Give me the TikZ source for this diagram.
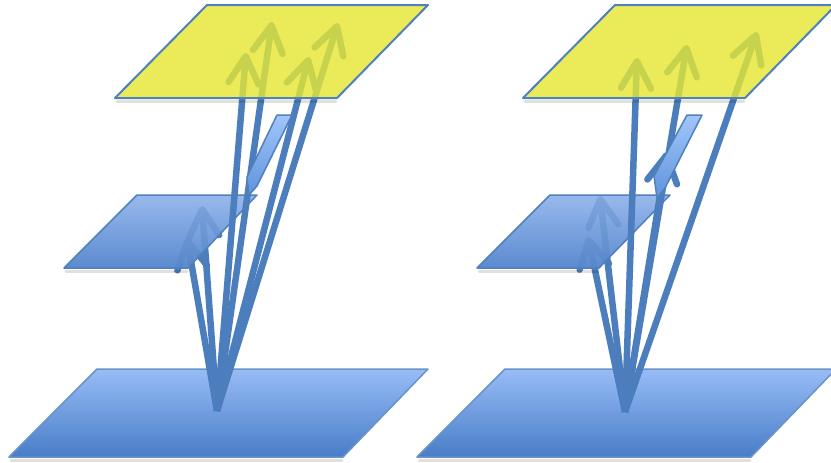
\documentclass[tikz,border=0pt]{standalone}
\usetikzlibrary{arrows.meta}
\definecolor{arrowblue}{RGB}{76,126,190}
\definecolor{edgeblue}{RGB}{79,129,189}
\definecolor{plyellow}{RGB}{230,231,49}
\definecolor{midtop}{RGB}{152,185,236}
\definecolor{midbot}{RGB}{92,138,208}
\definecolor{bottop}{RGB}{152,188,246}
\definecolor{botbot}{RGB}{72,125,200}
\definecolor{slvtop}{RGB}{160,198,250}
\definecolor{slvbot}{RGB}{96,148,220}
\tikzset{
  shaft/.style={line width=6.5pt, draw=arrowblue, -{Straight Barb[length=27pt,width=30pt,round]}},
  botplane/.style={top color=bottop, bottom color=botbot, draw=edgeblue!85!white, line width=1.5pt, line join=round},
  midplane/.style={top color=midtop, bottom color=midbot, draw=edgeblue, line width=1.5pt, line join=round},
  topplane/.style={fill=plyellow, fill opacity=0.8, draw=edgeblue, line width=2pt, line join=round},
  sliver/.style={top color=slvtop, bottom color=slvbot, draw=edgeblue, line width=1.5pt, line join=round},
  shadowline/.style={line width=3pt, black, opacity=0.12, line cap=round},
  seethrough/.style={transparency group, opacity=0.3}
}
\begin{document}
\begin{tikzpicture}[x=1pt,y=-1pt]
\useasboundingbox (0,0) rectangle (831,463);
\clip (0,0) rectangle (831,463);
\fill[white] (0,0) rectangle (831,463);

% ---------------- left panel ----------------
\coordinate (B1a) at (97,369); \coordinate (B1b) at (428,369);
\coordinate (B1c) at (343,457); \coordinate (B1d) at (9,457);
\coordinate (M1a) at (137,195); \coordinate (M1b) at (257,195);
\coordinate (M1c) at (188,268); \coordinate (M1d) at (64,268);
\coordinate (T1a) at (207,5); \coordinate (T1b) at (428,5);
\coordinate (T1c) at (337,98); \coordinate (T1d) at (115,98);
\coordinate (O1) at (217,411);
\coordinate (m1a) at (202,206); \coordinate (m1b) at (187,238);
\coordinate (t1a) at (246,53); \coordinate (t1b) at (272,22);
\coordinate (t1c) at (309,57); \coordinate (t1d) at (338,23);

\draw[shadowline] (11,460) -- (342,460);
\path[botplane] (B1a) -- (B1b) -- (B1c) -- (B1d) -- cycle;
\draw[shaft] (O1) -- (m1a);
\draw[shaft] (O1) -- (m1b);
\draw[shadowline] (66,271) -- (187,271);
\path[midplane] (M1a) -- (M1b) -- (M1c) -- (M1d) -- cycle;
\begin{scope}
  \clip (M1a) -- (M1b) -- (M1c) -- (M1d) -- cycle;
  \begin{scope}[seethrough]
    \draw[shaft] (O1) -- (m1a);
    \draw[shaft] (O1) -- (m1b);
  \end{scope}
\end{scope}
\draw[shaft] (O1) -- (t1a);
\draw[shaft] (O1) -- (t1b);
\draw[shaft] (O1) -- (t1c);
\draw[shaft] (O1) -- (t1d);
\path[sliver] (277,115) -- (292,115) -- (257,186) -- (249,195) -- (247,177) -- cycle;
\draw[shadowline] (117,101) -- (336,101);
\path[topplane] (T1a) -- (T1b) -- (T1c) -- (T1d) -- cycle;

% ---------------- right panel ----------------
\coordinate (B2a) at (505,369); \coordinate (B2b) at (836,369);
\coordinate (B2c) at (751,457); \coordinate (B2d) at (417,457);
\coordinate (M2a) at (550,195); \coordinate (M2b) at (670,195);
\coordinate (M2c) at (599,268); \coordinate (M2d) at (477,268);
\coordinate (T2a) at (615,5); \coordinate (T2b) at (836,5);
\coordinate (T2c) at (745,98); \coordinate (T2d) at (523,98);
\coordinate (O2) at (625,412);
\coordinate (m2a) at (600,196); \coordinate (m2b) at (588,237);
\coordinate (s2) at (667,152);
\coordinate (t2a) at (637,58); \coordinate (t2b) at (687,45);
\coordinate (t2c) at (757,32);

\draw[shadowline] (419,460) -- (750,460);
\path[botplane] (B2a) -- (B2b) -- (B2c) -- (B2d) -- cycle;
\draw[shaft] (O2) -- (m2a);
\draw[shaft] (O2) -- (m2b);
\draw[shadowline] (479,271) -- (598,271);
\path[midplane] (M2a) -- (M2b) -- (M2c) -- (M2d) -- cycle;
\begin{scope}
  \clip (M2a) -- (M2b) -- (M2c) -- (M2d) -- cycle;
  \begin{scope}[seethrough]
    \draw[shaft] (O2) -- (m2a);
    \draw[shaft] (O2) -- (m2b);
  \end{scope}
\end{scope}
\draw[shaft] (O2) -- (s2);
\draw[shaft] (O2) -- (t2a);
\draw[shaft] (O2) -- (t2b);
\draw[shaft] (O2) -- (t2c);
\path[sliver] (687,115) -- (702,115) -- (665,188) -- (657,198) -- (654,176) -- cycle;
\draw[shadowline] (525,101) -- (744,101);
\path[topplane] (T2a) -- (T2b) -- (T2c) -- (T2d) -- cycle;
\end{tikzpicture}
\end{document}
